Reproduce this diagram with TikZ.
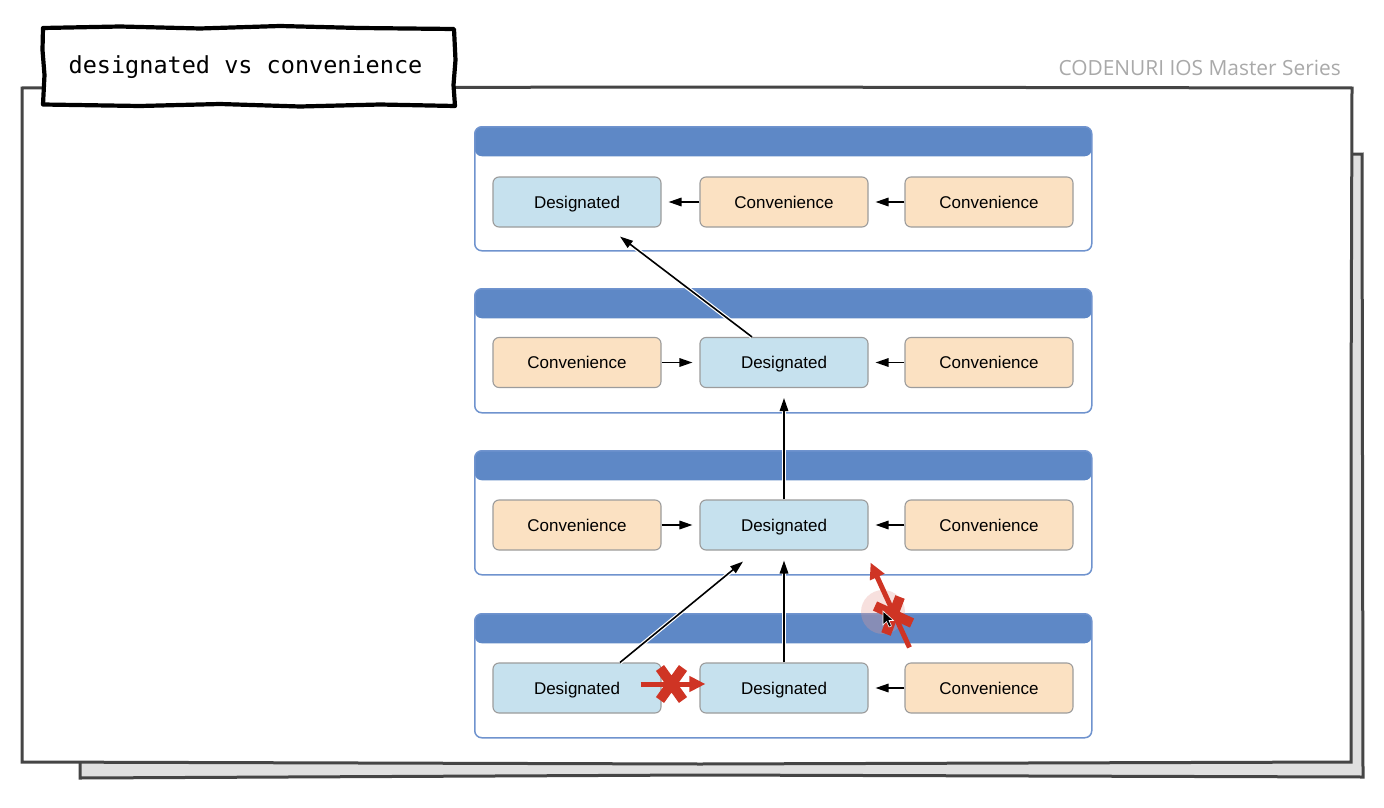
\documentclass[tikz,border=0pt]{standalone}
\usepackage{fontspec}
\setmainfont{Liberation Sans}
\newfontfamily\titlemono{DejaVu Sans Mono}
\newfontfamily\brandfont{Open Sans}
\usetikzlibrary{arrows.meta}
\definecolor{hdrblue}{HTML}{5E88C6}
\definecolor{panelline}{HTML}{6F93CE}
\definecolor{desfill}{HTML}{C6E1EE}
\definecolor{convfill}{HTML}{FBE1C2}
\definecolor{boxline}{HTML}{9C9C9C}
\definecolor{xred}{HTML}{CF3424}
\definecolor{sheetline}{HTML}{454545}
\definecolor{sheetgray}{HTML}{E0E0E0}
\definecolor{brandgray}{HTML}{A9A9A9}
\begin{document}
\begin{tikzpicture}[x=1pt,y=-1pt,
  panel/.style={draw=panelline, line width=1.5pt, fill=white, rounded corners=7pt,
    minimum width=617pt, minimum height=124pt, anchor=north west, inner sep=0pt,
    path picture={\fill[hdrblue] (path picture bounding box.north west) rectangle ([yshift=-29.5pt]path picture bounding box.north east);}},
  cbox/.style={draw=boxline, line width=1.1pt, rounded corners=6pt, minimum width=168pt,
    minimum height=50pt, inner sep=0pt, text height=12pt, text depth=0pt,
    font=\fontsize{17}{20}\selectfont},
  desig/.style={cbox, fill=desfill},
  conv/.style={cbox, fill=convfill},
  arr/.style={-{Triangle[length=13pt,width=8.5pt]}, line width=1.6pt, black},
  halo/.style={preaction={draw=white, line width=4pt, -}},
  redarr/.style={-{Triangle[length=16pt,width=15pt]}, line width=5pt, xred},
  redx/.style={line width=10pt, xred},
]
\useasboundingbox (0,0) rectangle (1384,808);

% back sheet
\filldraw[fill=sheetgray, draw=sheetline, line width=3pt]
  (80,155) -- (1362,154) -- (1363,777) -- (700,775) -- (80,778) -- cycle;
% front sheet
\filldraw[fill=white, draw=sheetline, line width=3pt]
  (22,88) -- (700,87) -- (1352,88) -- (1351,420) -- (1351,762) -- (700,764) -- (22,762) -- cycle;

% title box
\filldraw[fill=white, draw=black, line width=4.2pt, line join=round]
  (43,28) -- (120,26.5) -- (200,28.5) -- (280,26) -- (360,28) -- (454,29)
  -- (455.5,60) -- (453.5,85) -- (455,106)
  -- (380,104.5) -- (300,106.5) -- (220,104) -- (140,106) -- (43,104.5)
  -- (44.5,75) -- (42.5,50) -- cycle;
\node[inner sep=0pt] (title) at (245.5,67)
  {\titlemono\fontsize{23.5}{28}\selectfont designated vs convenience};

% brand
\node[anchor=east, inner sep=0pt, text=brandgray, font=\brandfont\fontsize{20.9}{24}\selectfont]
  (brand) at (1341,68) {CODENURI IOS Master Series};

% panels
\node[panel] (p1) at (474,126) {};
\node[panel] (p2) at (474,288) {};
\node[panel] (p3) at (474,450) {};
\node[panel] (p4) at (474,613) {};

% row 1
\node[desig] (d11) at (577,202) {Designated};
\node[conv]  (c12) at (784,202) {Convenience};
\node[conv]  (c13) at (989,202) {Convenience};
% row 2
\node[conv]  (c21) at (577,362.5) {Convenience};
\node[desig] (d22) at (784,362.5) {Designated};
\node[conv]  (c23) at (989,362.5) {Convenience};
% row 3
\node[conv]  (c31) at (577,525) {Convenience};
\node[desig] (d32) at (784,525) {Designated};
\node[conv]  (c33) at (989,525) {Convenience};
% row 4
\node[desig] (d41) at (577,688) {Designated};
\node[desig] (d42) at (784,688) {Designated};
\node[conv]  (c43) at (989,688) {Convenience};

% horizontal arrows
\draw[arr, shorten >=7pt] (c12.west) -- (d11.east);
\draw[arr, shorten >=7pt] (c13.west) -- (c12.east);
\draw[arr, shorten >=7pt] (c21.east) -- (d22.west);
\draw[arr, shorten >=7pt] (c23.west) -- (d22.east);
\draw[arr, shorten >=7pt] (c31.east) -- (d32.west);
\draw[arr, shorten >=7pt] (c33.west) -- (d32.east);
\draw[arr, shorten >=7pt] (c43.west) -- (d42.east);

% vertical / diagonal arrows
\draw[arr, halo] ([xshift=-32pt]d22.north) -- ([xshift=43pt,yshift=-9pt]d11.south);
\draw[arr, halo] (d32.north) -- ([yshift=-10pt]d22.south);
\draw[arr, halo] (d42.north) -- ([yshift=-10pt]d32.south);
\draw[arr, halo] ([xshift=43pt]d41.north) -- ([xshift=-41pt,yshift=-11pt]d32.south);

% highlight circle
\fill[xred!50, opacity=0.3] (883,612) circle[radius=22pt];

% forbidden arrows
\draw[redarr] ([xshift=-21pt,yshift=4pt]d41.east) -- ([xshift=6pt,yshift=4pt]d42.west);
\draw[redx] (660,668) -- (683,700) (683,668) -- (660,700);

\draw[redarr] ([xshift=5pt,yshift=15pt]c43.north west) -- ([xshift=2pt,yshift=-12pt]d32.south east);
\draw[redx] (875,606) -- (912,623) (900,597) -- (886,634);

% cursor
\filldraw[fill=black, draw=white, line width=0.6pt]
  (883,611) -- (883,625) -- (886.5,621.5) -- (889,627) -- (891.5,626) -- (889,620.5) -- (893.5,620.5) -- cycle;
\end{tikzpicture}
\end{document}
